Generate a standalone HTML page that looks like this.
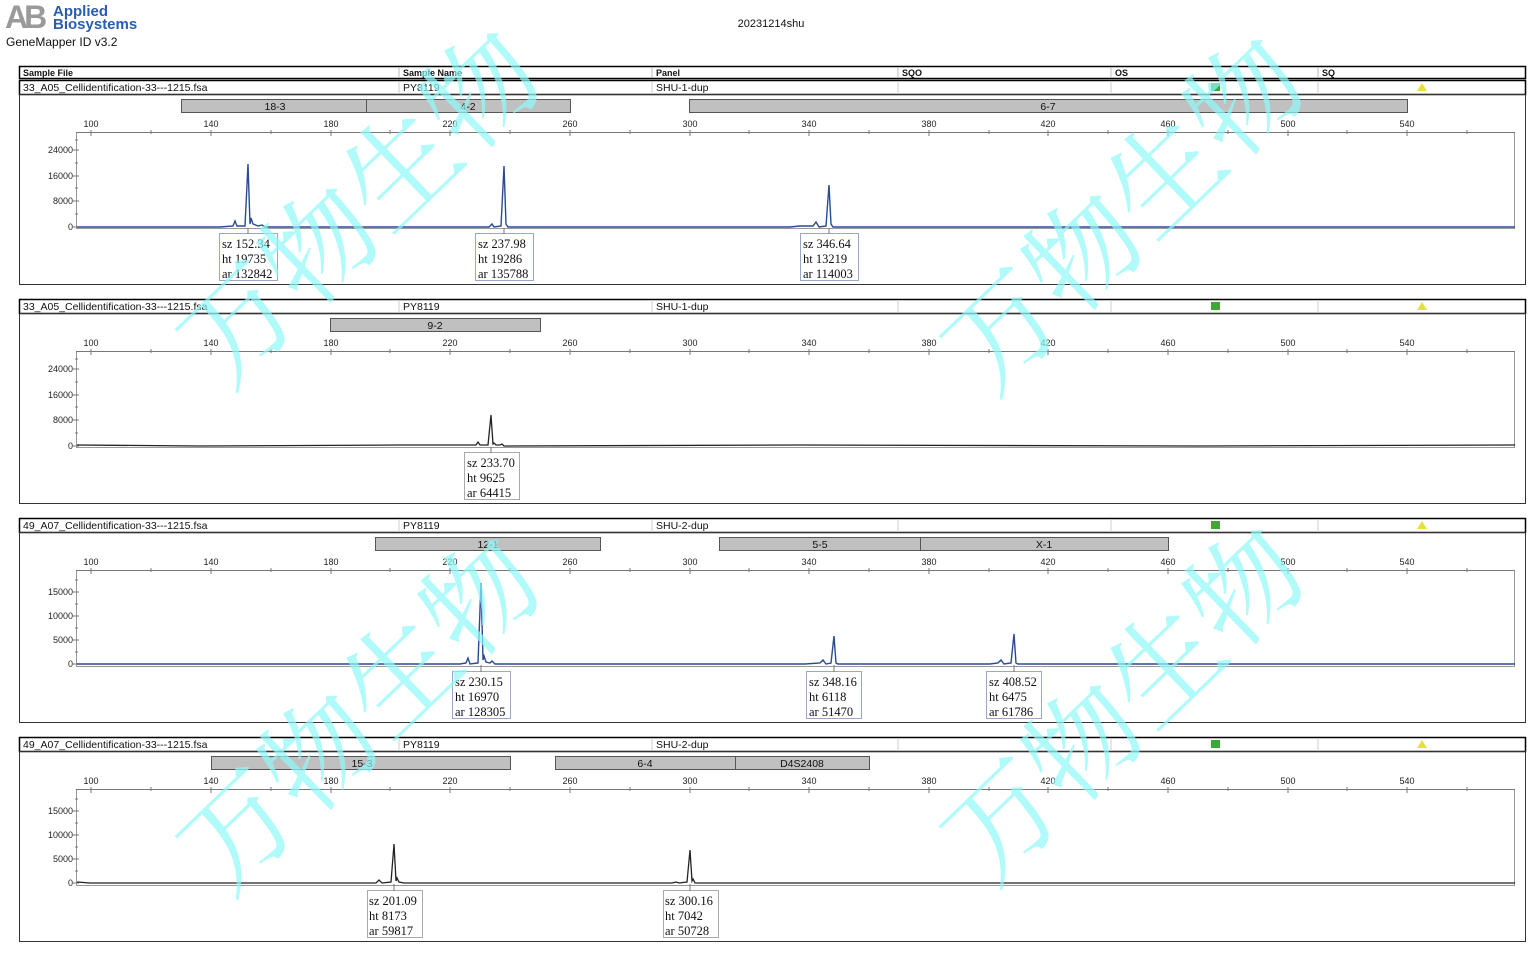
<!DOCTYPE html>
<html><head><meta charset="utf-8"><style>
html,body{margin:0;padding:0;background:#fff;width:1532px;height:973px;overflow:hidden}
svg{display:block}
.s{font-family:"Liberation Sans",sans-serif;font-size:10.5px;fill:#111}
.b{font-family:"Liberation Sans",sans-serif;font-size:9px;font-weight:bold;fill:#111}
.ax{font-family:"Liberation Sans",sans-serif;font-size:9px;fill:#222}
.lb{font-family:"Liberation Serif",serif;font-size:12.5px;fill:#111}
.wm{font-family:"Noto Serif CJK SC","Noto Sans CJK SC",serif;font-size:112px;fill:#8ff9f9;opacity:.7}
</style></head><body>
<svg width="1532" height="973" viewBox="0 0 1532 973" xmlns="http://www.w3.org/2000/svg">
<defs>
<g id="row">
  <rect x="19.5" y="80.5" width="1506" height="14" fill="#fff" stroke="#000" stroke-width="1.5"/>
  <g stroke="#ccc"><line x1="399" y1="81" x2="399" y2="94"/><line x1="652" y1="81" x2="652" y2="94"/><line x1="898" y1="81" x2="898" y2="94"/><line x1="1111" y1="81" x2="1111" y2="94"/><line x1="1318" y1="81" x2="1318" y2="94"/></g>
  <rect x="1211" y="83" width="9" height="8" fill="#3aaa35"/>
  <polygon points="1422,83 1427,91 1417,91" fill="#e8e03a"/>
  <rect x="19.5" y="94.5" width="1506" height="190" fill="none" stroke="#333" stroke-width="1"/>
  <text class="ax" x="91" y="127" text-anchor="middle">100</text>
  <text class="ax" x="211" y="127" text-anchor="middle">140</text>
  <text class="ax" x="331" y="127" text-anchor="middle">180</text>
  <text class="ax" x="450" y="127" text-anchor="middle">220</text>
  <text class="ax" x="570" y="127" text-anchor="middle">260</text>
  <text class="ax" x="690" y="127" text-anchor="middle">300</text>
  <text class="ax" x="809" y="127" text-anchor="middle">340</text>
  <text class="ax" x="929" y="127" text-anchor="middle">380</text>
  <text class="ax" x="1048" y="127" text-anchor="middle">420</text>
  <text class="ax" x="1168" y="127" text-anchor="middle">460</text>
  <text class="ax" x="1288" y="127" text-anchor="middle">500</text>
  <text class="ax" x="1407" y="127" text-anchor="middle">540</text>
  <rect x="76.5" y="132.5" width="1438" height="96" fill="none" stroke="#999" stroke-width="1"/>
  <line x1="76" y1="132.5" x2="1515" y2="132.5" stroke="#777"/>
  <g stroke="#777">
   <line x1="91" y1="130" x2="91" y2="136"/><line x1="151" y1="130" x2="151" y2="134"/><line x1="211" y1="130" x2="211" y2="136"/><line x1="271" y1="130" x2="271" y2="134"/><line x1="331" y1="130" x2="331" y2="136"/><line x1="390" y1="130" x2="390" y2="134"/><line x1="450" y1="130" x2="450" y2="136"/><line x1="510" y1="130" x2="510" y2="134"/><line x1="570" y1="130" x2="570" y2="136"/><line x1="630" y1="130" x2="630" y2="134"/><line x1="690" y1="130" x2="690" y2="136"/><line x1="749" y1="130" x2="749" y2="134"/><line x1="809" y1="130" x2="809" y2="136"/><line x1="869" y1="130" x2="869" y2="134"/><line x1="929" y1="130" x2="929" y2="136"/><line x1="989" y1="130" x2="989" y2="134"/><line x1="1048" y1="130" x2="1048" y2="136"/><line x1="1108" y1="130" x2="1108" y2="134"/><line x1="1168" y1="130" x2="1168" y2="136"/><line x1="1228" y1="130" x2="1228" y2="134"/><line x1="1288" y1="130" x2="1288" y2="136"/><line x1="1347" y1="130" x2="1347" y2="134"/><line x1="1407" y1="130" x2="1407" y2="136"/><line x1="1467" y1="130" x2="1467" y2="134"/>
  </g>
</g>
<g id="y1" stroke="#777">
  <line x1="73" y1="150" x2="79" y2="150"/><line x1="73" y1="176" x2="79" y2="176"/><line x1="73" y1="201" x2="79" y2="201"/><line x1="73" y1="227" x2="79" y2="227"/>
  <line x1="75" y1="163" x2="78" y2="163"/><line x1="75" y1="188" x2="78" y2="188"/><line x1="75" y1="214" x2="78" y2="214"/><line x1="75" y1="140" x2="78" y2="140"/>
</g>
</defs>

<!-- header -->
<text x="5" y="28" font-family="Liberation Sans,sans-serif" font-size="32" font-weight="bold" fill="#9a9a9a" letter-spacing="-4">AB</text>
<text x="53" y="16" font-family="Liberation Sans,sans-serif" font-size="15" font-weight="bold" fill="#2a5db0">Applied</text>
<text x="53" y="29" font-family="Liberation Sans,sans-serif" font-size="15" font-weight="bold" fill="#2a5db0">Biosystems</text>
<text x="6" y="46" class="s" style="font-size:12px">GeneMapper ID v3.2</text>
<text x="771" y="27" class="s" style="font-size:11px" text-anchor="middle">20231214shu</text>

<rect x="19.5" y="66.5" width="1506" height="12" fill="#fff" stroke="#000" stroke-width="1.5"/>
<g stroke="#bbb"><line x1="399" y1="67" x2="399" y2="78"/><line x1="652" y1="67" x2="652" y2="78"/><line x1="898" y1="67" x2="898" y2="78"/><line x1="1111" y1="67" x2="1111" y2="78"/><line x1="1318" y1="67" x2="1318" y2="78"/></g>
<text class="b" x="23" y="76">Sample File</text><text class="b" x="403" y="76">Sample Name</text><text class="b" x="656" y="76">Panel</text><text class="b" x="902" y="76">SQO</text><text class="b" x="1115" y="76">OS</text><text class="b" x="1322" y="76">SQ</text>

<!-- Panel 1 -->
<g>
<use href="#row"/><use href="#y1"/>
<text class="s" x="23" y="91">33_A05_Cellidentification-33---1215.fsa</text><text class="s" x="403" y="91">PY8119</text><text class="s" x="656" y="91">SHU-1-dup</text>
<g fill="#c0c0c0" stroke="#555"><rect x="181.5" y="99.5" width="185" height="13"/><rect x="366.5" y="99.5" width="204" height="13"/><rect x="689.5" y="99.5" width="718" height="13"/></g>
<text class="s" x="275" y="110" text-anchor="middle">18-3</text><text class="s" x="468" y="110" text-anchor="middle">4-2</text><text class="s" x="1048" y="110" text-anchor="middle">6-7</text>
<text class="ax" x="73" y="153" text-anchor="end">24000</text><text class="ax" x="73" y="179" text-anchor="end">16000</text><text class="ax" x="73" y="204" text-anchor="end">8000</text><text class="ax" x="73" y="230" text-anchor="end">0</text>
<path d="M77,227 L220,227 L233,226 L235,221 L237,226 L245,226 L248,164 L250,224 L251,218 L253,224 L258,226 L262,225 L265,227 L489,227 L492,224 L494,227 L501,226 L504,166 L506,224 L508,227 L790,227 L800,226 L813,226 L816,222 L819,227 L826,226 L829,185 L831,224 L833,227 L1515,227" fill="none" stroke="#2a4a94" stroke-width="1.4"/>
<g fill="#fff" stroke="#9aa8c8"><rect x="219.5" y="233.5" width="58" height="47"/><rect x="475.5" y="233.5" width="58" height="47"/><rect x="800.5" y="233.5" width="58" height="47"/></g>
<g stroke="#777"><line x1="248" y1="228" x2="248" y2="234"/><line x1="504" y1="228" x2="504" y2="234"/><line x1="829" y1="228" x2="829" y2="234"/></g>
<text class="lb" x="222" y="248">sz 152.34</text><text class="lb" x="222" y="263">ht 19735</text><text class="lb" x="222" y="278">ar 132842</text>
<text class="lb" x="478" y="248">sz 237.98</text><text class="lb" x="478" y="263">ht 19286</text><text class="lb" x="478" y="278">ar 135788</text>
<text class="lb" x="803" y="248">sz 346.64</text><text class="lb" x="803" y="263">ht 13219</text><text class="lb" x="803" y="278">ar 114003</text>
</g>

<!-- Panel 2 -->
<g transform="translate(0,219)">
<use href="#row"/><use href="#y1"/>
<text class="s" x="23" y="91">33_A05_Cellidentification-33---1215.fsa</text><text class="s" x="403" y="91">PY8119</text><text class="s" x="656" y="91">SHU-1-dup</text>
<rect x="330.5" y="99.5" width="210" height="13" fill="#c0c0c0" stroke="#555"/>
<text class="s" x="435" y="110" text-anchor="middle">9-2</text>
<text class="ax" x="73" y="153" text-anchor="end">24000</text><text class="ax" x="73" y="179" text-anchor="end">16000</text><text class="ax" x="73" y="204" text-anchor="end">8000</text><text class="ax" x="73" y="230" text-anchor="end">0</text>
<path d="M77,226 L200,227 L400,226 L476,226 L478,223 L480,226 L488,226 L491,196 L493,225 L494,224 L496,226 L500,226 L502,225 L504,227 L800,226 L1200,227 L1515,226" fill="none" stroke="#222" stroke-width="1.3"/>
<rect x="464.5" y="233.5" width="55" height="47" fill="#fff" stroke="#aaa"/>
<line x1="491" y1="228" x2="491" y2="234" stroke="#777"/>
<text class="lb" x="467" y="248">sz 233.70</text><text class="lb" x="467" y="263">ht 9625</text><text class="lb" x="467" y="278">ar 64415</text>
</g>

<!-- Panel 3 -->
<g transform="translate(0,438)">
<use href="#row"/>
<g stroke="#777"><line x1="73" y1="154" x2="79" y2="154"/><line x1="73" y1="178" x2="79" y2="178"/><line x1="73" y1="202" x2="79" y2="202"/><line x1="73" y1="226" x2="79" y2="226"/><line x1="75" y1="142" x2="78" y2="142"/><line x1="75" y1="166" x2="78" y2="166"/><line x1="75" y1="190" x2="78" y2="190"/><line x1="75" y1="214" x2="78" y2="214"/></g>
<text class="s" x="23" y="91">49_A07_Cellidentification-33---1215.fsa</text><text class="s" x="403" y="91">PY8119</text><text class="s" x="656" y="91">SHU-2-dup</text>
<g fill="#c0c0c0" stroke="#555"><rect x="375.5" y="99.5" width="225" height="13"/><rect x="719.5" y="99.5" width="201" height="13"/><rect x="920.5" y="99.5" width="248" height="13"/></g>
<text class="s" x="488" y="110" text-anchor="middle">12-1</text><text class="s" x="820" y="110" text-anchor="middle">5-5</text><text class="s" x="1044" y="110" text-anchor="middle">X-1</text>
<text class="ax" x="73" y="157" text-anchor="end">15000</text><text class="ax" x="73" y="181" text-anchor="end">10000</text><text class="ax" x="73" y="205" text-anchor="end">5000</text><text class="ax" x="73" y="229" text-anchor="end">0</text>
<path d="M77,226 L460,226 L466,225 L468,220 L470,226 L478,225 L481,145 L483,222 L484,218 L486,224 L490,225 L492,223 L495,226 L805,226 L820,225 L823,222 L826,226 L831,225 L834,198 L836,225 L838,226 L990,226 L998,225 L1001,222 L1004,226 L1011,225 L1014,196 L1016,225 L1018,226 L1515,226" fill="none" stroke="#2a4a94" stroke-width="1.4"/>
<g fill="#fff" stroke="#9aa8c8"><rect x="452.5" y="233.5" width="58" height="47"/><rect x="806.5" y="233.5" width="55" height="47"/><rect x="986.5" y="233.5" width="55" height="47"/></g>
<g stroke="#777"><line x1="481" y1="227" x2="481" y2="234"/><line x1="834" y1="227" x2="834" y2="234"/><line x1="1014" y1="227" x2="1014" y2="234"/></g>
<text class="lb" x="455" y="248">sz 230.15</text><text class="lb" x="455" y="263">ht 16970</text><text class="lb" x="455" y="278">ar 128305</text>
<text class="lb" x="809" y="248">sz 348.16</text><text class="lb" x="809" y="263">ht 6118</text><text class="lb" x="809" y="278">ar 51470</text>
<text class="lb" x="989" y="248">sz 408.52</text><text class="lb" x="989" y="263">ht 6475</text><text class="lb" x="989" y="278">ar 61786</text>
</g>

<!-- Panel 4 -->
<g transform="translate(0,657)">
<use href="#row"/>
<g stroke="#777"><line x1="73" y1="154" x2="79" y2="154"/><line x1="73" y1="178" x2="79" y2="178"/><line x1="73" y1="202" x2="79" y2="202"/><line x1="73" y1="226" x2="79" y2="226"/><line x1="75" y1="142" x2="78" y2="142"/><line x1="75" y1="166" x2="78" y2="166"/><line x1="75" y1="190" x2="78" y2="190"/><line x1="75" y1="214" x2="78" y2="214"/></g>
<text class="s" x="23" y="91">49_A07_Cellidentification-33---1215.fsa</text><text class="s" x="403" y="91">PY8119</text><text class="s" x="656" y="91">SHU-2-dup</text>
<g fill="#c0c0c0" stroke="#555"><rect x="211.5" y="99.5" width="299" height="13"/><rect x="555.5" y="99.5" width="180" height="13"/><rect x="735.5" y="99.5" width="134" height="13"/></g>
<text class="s" x="362" y="110" text-anchor="middle">15-3</text><text class="s" x="645" y="110" text-anchor="middle">6-4</text><text class="s" x="802" y="110" text-anchor="middle">D4S2408</text>
<text class="ax" x="73" y="157" text-anchor="end">15000</text><text class="ax" x="73" y="181" text-anchor="end">10000</text><text class="ax" x="73" y="205" text-anchor="end">5000</text><text class="ax" x="73" y="229" text-anchor="end">0</text>
<path d="M77,225 L90,226 L300,226 L376,226 L379,223 L382,226 L391,225 L394,187 L396,224 L397,221 L399,225 L404,226 L672,226 L676,225 L679,226 L687,225 L690,193 L692,224 L693,222 L695,226 L900,226 L1200,226 L1515,226" fill="none" stroke="#222" stroke-width="1.3"/>
<g fill="#fff" stroke="#aaa"><rect x="367.5" y="233.5" width="55" height="47"/><rect x="663.5" y="233.5" width="55" height="47"/></g>
<g stroke="#777"><line x1="394" y1="227" x2="394" y2="234"/><line x1="690" y1="227" x2="690" y2="234"/></g>
<text class="lb" x="369" y="248">sz 201.09</text><text class="lb" x="369" y="263">ht 8173</text><text class="lb" x="369" y="278">ar 59817</text>
<text class="lb" x="665" y="248">sz 300.16</text><text class="lb" x="665" y="263">ht 7042</text><text class="lb" x="665" y="278">ar 50728</text>
</g>

<!-- watermarks -->
<text class="wm" transform="translate(368,215) rotate(-44)" text-anchor="middle" dominant-baseline="middle">万物生物</text>
<text class="wm" transform="translate(1132,222) rotate(-44)" text-anchor="middle" dominant-baseline="middle">万物生物</text>
<text class="wm" transform="translate(368,722) rotate(-44)" text-anchor="middle" dominant-baseline="middle">万物生物</text>
<text class="wm" transform="translate(1132,712) rotate(-44)" text-anchor="middle" dominant-baseline="middle">万物生物</text>
</svg>
</body></html>
